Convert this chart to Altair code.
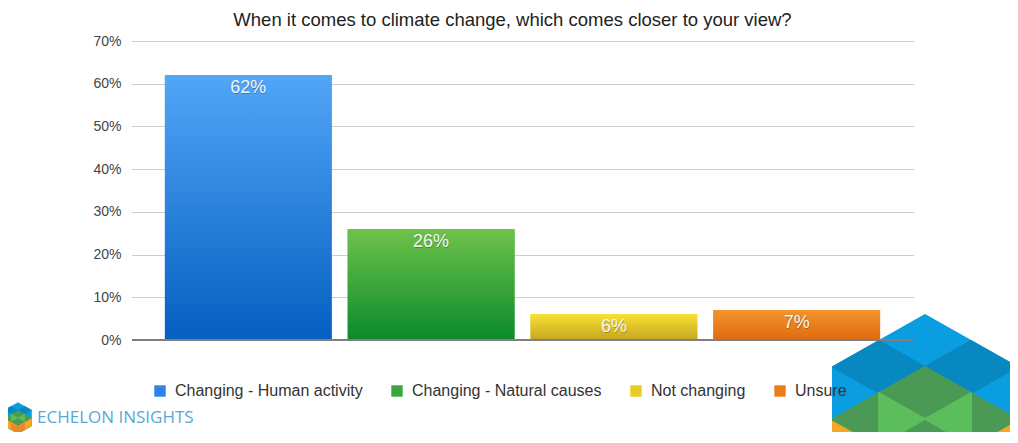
import base64
import altair as alt
import pandas as pd

# ---- data ----
categories = ["Changing - Human activity", "Changing - Natural causes", "Not changing", "Unsure"]
values = [62, 26, 6, 7]
labels = ["62%", "26%", "6%", "7%"]
solid_colors = ["#2b84e6", "#3aa53a", "#e8cc22", "#ea7e18"]
grad_top = ["#52a6f8", "#6fc24a", "#f8e232", "#f1952a"]
grad_bottom = ["#055fc0", "#0a8a2c", "#c6a420", "#e06a10"]
y_ticks = [0, 10, 20, 30, 40, 50, 60, 70]
title_text = "When it comes to climate change, which comes closer to your view?"
brand_text = "ECHELON INSIGHTS"

df = pd.DataFrame({"cat": categories, "value": values, "label": labels})

# ---- logo artwork (decoration) ----
LB, DB, DG, LG, OR, DOR = "#0a9de0", "#0888c0", "#4a9a55", "#5cbd5c", "#f5a623", "#e98a2a"
polys = [
    (LB, [(0, 0), (92, 52), (92, 158), (0, 210), (-92, 158), (-92, 52)]),
    (DB, [(-92, 52), (-46, 26), (0, 52), (-46, 78)]),
    (DB, [(92, 52), (46, 26), (0, 52), (46, 78)]),
    (DG, [(-92, 104), (-46, 78), (0, 104), (46, 78), (92, 104), (92, 158), (0, 210), (-92, 158)]),
    (DG, [(0, 52), (-46, 78), (0, 104), (46, 78)]),
    (LG, [(-46, 78), (0, 104), (-46, 130)]),
    (LG, [(46, 78), (0, 104), (46, 130)]),
    (OR, [(-92, 107), (-46, 133), (0, 159), (46, 133), (92, 107), (92, 158), (0, 210), (-92, 158)]),
    (DOR, [(-46, 133), (0, 159), (46, 133), (46, 184), (0, 210), (-46, 184)]),
]


def poly_svg():
    out = []
    for col, pts in polys:
        p = " ".join(f"{x},{y}" for x, y in pts)
        out.append(f'<polygon points="{p}" fill="{col}" stroke="{col}" stroke-width="2" stroke-linejoin="round"/>')
    return "".join(out)


def uri(svg):
    return "data:image/svg+xml;base64," + base64.b64encode(svg.encode()).decode()


big_svg = ('<svg xmlns="http://www.w3.org/2000/svg" width="188" height="131" viewBox="830 312 188 131">'
           '<g transform="translate(925,315)">' + poly_svg() + '</g></svg>')
small_svg = ('<svg xmlns="http://www.w3.org/2000/svg" width="27" height="31" viewBox="-94 -2 188 214">'
             + poly_svg() + '</svg>')

one = pd.DataFrame({"k": [0]})

big_logo = alt.Chart(one).mark_image(url=uri(big_svg), width=188, height=131, align="left",
                                     baseline="top", aspect=False).encode(
    x=alt.value(698), y=alt.value(271))
small_logo = alt.Chart(one).mark_image(url=uri(small_svg), width=28, height=32, align="left",
                                       baseline="top", aspect=False).encode(
    x=alt.value(-128), y=alt.value(361))
brand = alt.Chart(one).mark_text(text=brand_text, align="left", baseline="middle", fontSize=17,
                                 color="#5aa7d8", font="Open Sans").encode(
    x=alt.value(-95), y=alt.value(377))

# ---- chart ----
x_enc = alt.X("cat:N", sort=categories, axis=None,
              scale=alt.Scale(domain=categories, paddingInner=0.0876, paddingOuter=0.18))
y_enc = alt.Y("value:Q", title=None,
              scale=alt.Scale(domain=[0, 70], nice=False),
              axis=alt.Axis(values=y_ticks, labelExpr="datum.value + '%'", domain=False, ticks=False,
                            grid=True, gridDash=[1, 1], gridColor="#9a9a9a", gridWidth=1,
                            labelPadding=11, labelFontSize=14, labelColor="#444444"))

base = alt.Chart(df).mark_bar().encode(
    x=x_enc, y=y_enc,
    color=alt.Color("cat:N", sort=categories,
                    scale=alt.Scale(domain=categories, range=solid_colors),
                    legend=alt.Legend(title=None, orient="none", legendX=20, legendY=342,
                                      direction="horizontal", columns=4, symbolType="square",
                                      symbolSize=130, symbolStrokeWidth=0, labelFontSize=16,
                                      labelLimit=500, labelColor="#333333", columnPadding=26,
                                      labelOffset=7)),
)

grad_layers = []
for i, c in enumerate(categories):
    g = alt.Gradient(gradient="linear", x1=0, y1=0, x2=0, y2=1,
                     stops=[alt.GradientStop(offset=0, color=grad_top[i]),
                            alt.GradientStop(offset=1, color=grad_bottom[i])])
    grad_layers.append(
        alt.Chart(df).transform_filter(alt.datum.cat == c).mark_bar(color=g).encode(x=x_enc, y=y_enc)
    )

baseline = alt.Chart(one).mark_rule(color="#7f7f7f", strokeWidth=2).encode(y=alt.datum(0))

shadow = alt.Chart(df).mark_text(dy=14, dx=0.5, baseline="middle", fontSize=18, color="#000000",
                                 opacity=0.25).encode(x=x_enc, y=y_enc, text="label:N")
text = alt.Chart(df).mark_text(dy=13, baseline="middle", fontSize=18, color="#f6f6f6").encode(
    x=x_enc, y=y_enc, text="label:N")

chart = alt.layer(big_logo, small_logo, brand, base, *grad_layers, baseline, shadow, text).properties(
    width=781, height=299,
    padding={"left": 124, "top": 33, "right": 97, "bottom": 92},
    autosize=alt.AutoSizeParams(type="none"),
    title=alt.Title(title_text, fontSize=18.5, fontWeight="normal", color="#222222", anchor="middle",
                    dx=-10, offset=5),
).configure(font="Liberation Sans").configure_view(stroke=None)

chart.save("out.html", embed_options={"renderer": "svg", "actions": False})
